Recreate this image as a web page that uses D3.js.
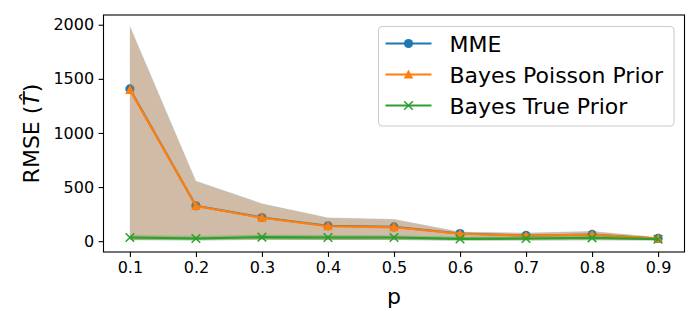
<!DOCTYPE html>
<html>
<head>
<meta charset="utf-8">
<script src="https://cdn.jsdelivr.net/npm/d3@7"></script>
<style>
  body { margin: 0; background: #fff; }
  svg { font-family: "DejaVu Sans", sans-serif; }
</style>
</head>
<body>
<div id="chart"></div>
<script>
// data
const pValues = [0.1, 0.2, 0.3, 0.4, 0.5, 0.6, 0.7, 0.8, 0.9];
const mme = [1407, 327, 219, 142, 132, 71, 53, 62, 25];
const mmeUpper = [1990, 558, 349, 219, 204, 86, 77, 93, 37];
const mmeLower = [10, 12, 15, 12, 12, 8, 8, 8, 8];
const bayesPoisson = [1398, 325, 216, 138, 128, 69, 51, 60, 24];
const poissonUpper = [1980, 552, 345, 215, 200, 84, 75, 90, 36];
const poissonLower = [10, 12, 15, 12, 12, 8, 8, 8, 8];
const bayesTrue = [34, 25, 37, 34, 34, 21, 25, 31, 18];
const trueUpper = [58, 48, 60, 56, 55, 40, 45, 52, 30];
const trueLower = [8, 4, 12, 10, 10, 4, 6, 10, 6];
const xTicks = [0.1, 0.2, 0.3, 0.4, 0.5, 0.6, 0.7, 0.8, 0.9];
const yTicks = [0, 500, 1000, 1500, 2000];

const width = 700, height = 320;
const margin = { top: 15, right: 15.5, bottom: 68, left: 103.5 };

const svg = d3.select("#chart").append("svg")
  .attr("width", width).attr("height", height);

const x = d3.scaleLinear().domain([0.06, 0.94])
  .range([margin.left, width - margin.right]);
const y = d3.scaleLinear().domain([-100, 2090])
  .range([height - margin.bottom, margin.top]);

const series = [
  { name: "MME", vals: mme, lo: mmeLower, hi: mmeUpper, color: "#1f77b4", marker: "circle" },
  { name: "Bayes Poisson Prior", vals: bayesPoisson, lo: poissonLower, hi: poissonUpper, color: "#ff7f0e", marker: "triangle" },
  { name: "Bayes True Prior", vals: bayesTrue, lo: trueLower, hi: trueUpper, color: "#2ca02c", marker: "x" },
];

const area = d3.area()
  .x((d, i) => x(pValues[i]))
  .y0(d => y(d[0]))
  .y1(d => y(d[1]));

const line = d3.line()
  .x((d, i) => x(pValues[i]))
  .y(d => y(d));

const plot = svg.append("g");

const drawMarker = (g, s) => {
  const pts = g.selectAll(null).data(s.vals).enter();
  if (s.marker === "circle") {
    pts.append("circle")
      .attr("cx", (d, i) => x(pValues[i]))
      .attr("cy", d => y(d))
      .attr("r", 4.6)
      .attr("fill", s.color);
  } else if (s.marker === "triangle") {
    pts.append("path")
      .attr("transform", (d, i) => `translate(${x(pValues[i])},${y(d)})`)
      .attr("d", "M0,-5L4.7,4L-4.7,4Z")
      .attr("fill", s.color);
  } else {
    pts.append("path")
      .attr("transform", (d, i) => `translate(${x(pValues[i])},${y(d)})`)
      .attr("d", "M-4.3,-4.3L4.3,4.3M-4.3,4.3L4.3,-4.3")
      .attr("stroke", s.color)
      .attr("stroke-width", 1.5)
      .attr("fill", "none");
  }
};

series.forEach(s => {
  const g = plot.append("g");
  g.append("path")
    .datum(s.lo.map((v, i) => [v, s.hi[i]]))
    .attr("d", area)
    .attr("fill", s.color)
    .attr("fill-opacity", 0.3);
  g.append("path")
    .datum(s.vals)
    .attr("d", line)
    .attr("fill", "none")
    .attr("stroke", s.color)
    .attr("stroke-width", 2.1);
  drawMarker(g, s);
});

// axes
const xAxis = svg.append("g")
  .attr("transform", `translate(0,${height - margin.bottom})`)
  .call(d3.axisBottom(x).tickValues(xTicks).tickFormat(d3.format(".1f")).tickSize(4.9).tickPadding(4.5));
const yAxis = svg.append("g")
  .attr("transform", `translate(${margin.left},0)`)
  .call(d3.axisLeft(y).tickValues(yTicks).tickFormat(d3.format("d")).tickSize(4.9).tickPadding(4.5));

[xAxis, yAxis].forEach(a => {
  a.select(".domain").remove();
  a.selectAll("line").attr("stroke", "#000").attr("stroke-width", 1.1);
  a.selectAll("text").attr("font-size", 16).attr("fill", "#000")
    .attr("font-family", "DejaVu Sans");
});

// frame
svg.append("rect")
  .attr("x", margin.left).attr("y", margin.top)
  .attr("width", width - margin.left - margin.right)
  .attr("height", height - margin.top - margin.bottom)
  .attr("fill", "none").attr("stroke", "#000").attr("stroke-width", 1.1);

// axis labels
svg.append("text")
  .attr("x", (margin.left + width - margin.right) / 2)
  .attr("y", 304)
  .attr("text-anchor", "middle")
  .attr("font-size", 22)
  .text("p");

const yl = svg.append("text")
  .attr("transform", `translate(39,${(margin.top + height - margin.bottom) / 2}) rotate(-90)`)
  .attr("text-anchor", "middle")
  .attr("font-size", 22);
yl.append("tspan").text("RMSE (");
yl.append("tspan").attr("font-style", "italic").text("T\u0302");
yl.append("tspan").text(")");

// legend
const legend = svg.append("g").attr("transform", "translate(378.5,26.5)");
legend.append("rect")
  .attr("width", 295.5).attr("height", 99.5)
  .attr("rx", 4).attr("ry", 4)
  .attr("fill", "#fff").attr("fill-opacity", 0.8)
  .attr("stroke", "#cccccc").attr("stroke-width", 1.1);

series.forEach((s, i) => {
  const ly = 17 + i * 31;
  const lg = legend.append("g");
  lg.append("line")
    .attr("x1", 7).attr("x2", 53).attr("y1", ly).attr("y2", ly)
    .attr("stroke", s.color).attr("stroke-width", 2.1);
  const mk = { name: s.name, vals: [0], color: s.color, marker: s.marker };
  const mg = lg.append("g").attr("transform", `translate(${30 - x(pValues[0])},${ly - y(0)})`);
  drawMarker(mg, mk);
  lg.append("text")
    .attr("x", 71).attr("y", ly + 8)
    .attr("font-size", 22)
    .text(s.name);
});
</script>
</body>
</html>
